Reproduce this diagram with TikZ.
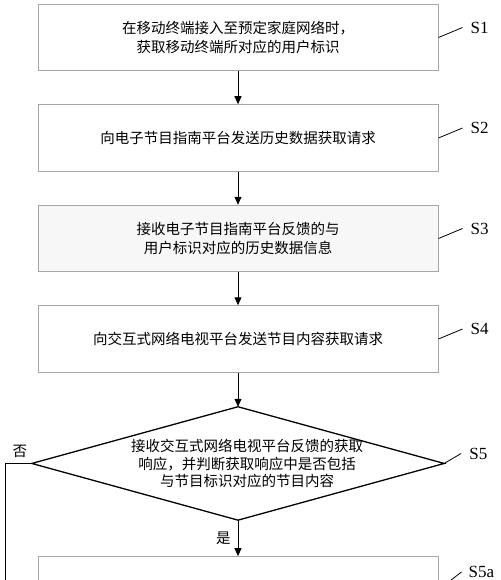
\documentclass[tikz,border=0pt]{standalone}
\usepackage{fontspec}
\setmainfont{Liberation Serif}
\newfontfamily\cjk{Noto Sans CJK SC}
\usetikzlibrary{arrows.meta,positioning}

\tikzset{
  stepbox/.style={draw=gray!70,line width=1pt,minimum width=400pt,minimum height=66.5pt,
    align=center,font=\cjk\fontsize{14.5}{18.5}\selectfont},
  flow/.style={-{Triangle[length=8pt,width=7pt]},line width=1pt},
  leader/.style={line width=0.8pt},
  tag/.style={font=\fontsize{17}{17}\selectfont,anchor=west,inner sep=0pt},
  word/.style={font=\cjk\fontsize{14.5}{17.5}\selectfont,align=center,inner sep=0pt},
}

\begin{document}
\begin{tikzpicture}[x=1pt,y=-1pt]
\clip (0,0) rectangle (500,580);
% steps
\node[stepbox] (s1) at (238,37.5) {在移动终端接入至预定家庭网络时，\\获取移动终端所对应的用户标识};
\node[stepbox,below=33pt of s1] (s2) {向电子节目指南平台发送历史数据获取请求};
\node[stepbox,below=33pt of s2,fill=gray!6] (s3) {接收电子节目指南平台反馈的与\\用户标识对应的历史数据信息};
\node[stepbox,below=33pt of s3] (s4) {向交互式网络电视平台发送节目内容获取请求};
% decision
\node[below=34pt of s4,minimum width=412pt,minimum height=113pt,inner sep=0pt] (s5) {};
\draw[line width=1.3pt] (s5.north) -- (s5.east) -- (s5.south) -- (s5.west) -- cycle;
\node[word] (q5) at ([xshift=9pt]s5.center) {接收交互式网络电视平台反馈的获取\\响应，并判断获取响应中是否包括\\与节目标识对应的节目内容};
\node[stepbox,below=36pt of s5] (s6) {};
% connectors
\draw[flow] (s1) -- (s2);
\draw[flow] (s2) -- (s3);
\draw[flow] (s3) -- (s4);
\draw[flow] (s4) -- (s5.north);
\draw[flow] (s5.south) -- node[word,left=7pt] (yes) {是} (s6);
\coordinate (no) at (5,620);
\draw[line width=1pt] (s5.west) -| (no);
\node[word] (nolabel) at ([shift={(-12pt,12pt)}]s5.west) {否};
% step tags
\foreach \s/\t in {s1/S1,s2/S2,s3/S3,s4/S4} {
  \node[tag] (t\s) at ([shift={(32pt,10pt)}]\s.east) {\t};
  \draw[leader] (\s.east) -- ([xshift=-8pt]t\s.west);
}
\node[tag] (ts5) at ([shift={(25pt,10pt)}]s5.east) {S5};
\draw[leader] (s5.east) -- ([xshift=-8pt]ts5.west);
\node[tag] (ts6) at ([shift={(30pt,18pt)}]s6.east) {S5a};
\draw[leader] (s6.east) -- ([xshift=-7pt]ts6.west);
\end{tikzpicture}
\end{document}
